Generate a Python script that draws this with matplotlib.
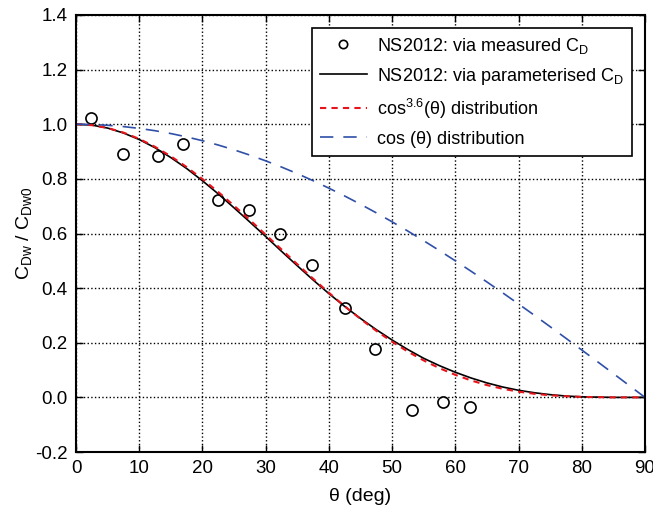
import matplotlib
matplotlib.use("Agg")
import matplotlib.pyplot as plt

plt.rcParams['font.family'] = ['Liberation Sans', 'DejaVu Sans']
plt.rcParams['mathtext.fontset'] = 'custom'
plt.rcParams['mathtext.rm'] = 'Liberation Sans'
plt.rcParams['mathtext.it'] = 'Liberation Sans:italic'

# measured points (NS2012: via measured C_D)
meas_theta = [2.4, 7.5, 13.0, 16.9, 22.5, 27.4, 32.2, 37.4, 42.5, 47.3, 53.2, 58.0, 62.4]
meas_cdw = [1.024, 0.891, 0.882, 0.927, 0.723, 0.685, 0.600, 0.484, 0.328, 0.176, -0.046, -0.016, -0.037]

# curves read on a 2.5 deg grid
theta = [0, 2.5, 5, 7.5, 10, 12.5, 15, 17.5, 20, 22.5, 25, 27.5, 30, 32.5, 35, 37.5,
         40, 42.5, 45, 47.5, 50, 52.5, 55, 57.5, 60, 62.5, 65, 67.5, 70, 72.5, 75,
         77.5, 80, 82.5, 85, 87.5, 90]
param_cdw = [1.0, 0.997, 0.986, 0.968, 0.944, 0.914, 0.878, 0.838, 0.793, 0.745,
             0.694, 0.642, 0.589, 0.535, 0.482, 0.430, 0.380, 0.333, 0.289, 0.248,
             0.210, 0.175, 0.143, 0.116, 0.092, 0.071, 0.053, 0.038, 0.026, 0.017,
             0.010, 0.005, 0.002, 0.001, 0.0, 0.0, 0.0]
cos36_cdw = [1.0, 0.9966, 0.9864, 0.9695, 0.9464, 0.9173, 0.8827, 0.8432, 0.7994,
             0.7520, 0.7018, 0.6494, 0.5958, 0.5416, 0.4876, 0.4346, 0.3831, 0.3338,
             0.2872, 0.2437, 0.2037, 0.1675, 0.1352, 0.1068, 0.0825, 0.0619, 0.0450,
             0.0315, 0.0210, 0.0132, 0.0077, 0.0041, 0.0018, 0.0007, 0.0002, 0.0, 0.0]
cos_cdw = [1.0, 0.9990, 0.9962, 0.9914, 0.9848, 0.9763, 0.9659, 0.9537, 0.9397,
           0.9239, 0.9063, 0.8870, 0.8660, 0.8434, 0.8192, 0.7934, 0.7660, 0.7373,
           0.7071, 0.6756, 0.6428, 0.6088, 0.5736, 0.5373, 0.5, 0.4617, 0.4226,
           0.3827, 0.3420, 0.3007, 0.2588, 0.2164, 0.1736, 0.1305, 0.0872, 0.0436, 0.0]

fig = plt.figure(figsize=(6.53, 5.15), dpi=100)
ax = fig.add_axes([0.1164, 0.1223, 0.8713, 0.8486])

ax.plot(meas_theta, meas_cdw, 'o', mfc='none', mec='black', ms=8, mew=1.2,
        label='NS2012: via measured C$_\\mathrm{D}$')
ax.plot(theta, param_cdw, '-', color='black', lw=1.2,
        label='NS2012: via parameterised C$_\\mathrm{D}$')
ax.plot(theta, cos36_cdw, '--', color='#e8141c', lw=1.5, dashes=(3, 2.5),
        label='cos$^{3.6}$(θ) distribution')
ax.plot(theta, cos_cdw, '--', color='#2f4fa8', lw=1.2, dashes=(8, 6),
        label='cos (θ) distribution')

ax.set_xlim(0, 90)
ax.set_ylim(-0.2, 1.4)
ax.set_xticks(range(0, 91, 10))
ax.set_yticks([-0.2, 0.0, 0.2, 0.4, 0.6, 0.8, 1.0, 1.2, 1.4])
ax.yaxis.set_major_formatter(matplotlib.ticker.FormatStrFormatter('%.1f'))
ax.tick_params(direction='in', labelsize=13.5, length=5, width=1, top=True, right=True, pad=6)
ax.grid(True, color='black', linestyle=':', linewidth=1)
for s in ax.spines.values():
    s.set_linewidth(1.5)

ax.set_xlabel('θ (deg)', fontsize=14, labelpad=8)
ax.set_ylabel('C$_\\mathrm{Dw}$ / C$_\\mathrm{Dw0}$', fontsize=14, labelpad=1)

leg = ax.legend(loc='upper right', fontsize=13, fancybox=False, framealpha=1,
                edgecolor='black', handlelength=2.6, handletextpad=0.6,
                borderaxespad=0.7, labelspacing=0.55, borderpad=0.45)
leg.get_frame().set_linewidth(1.2)
leg.legend_handles[0].set_markersize(6)

fig.savefig('out.png', dpi=100)
